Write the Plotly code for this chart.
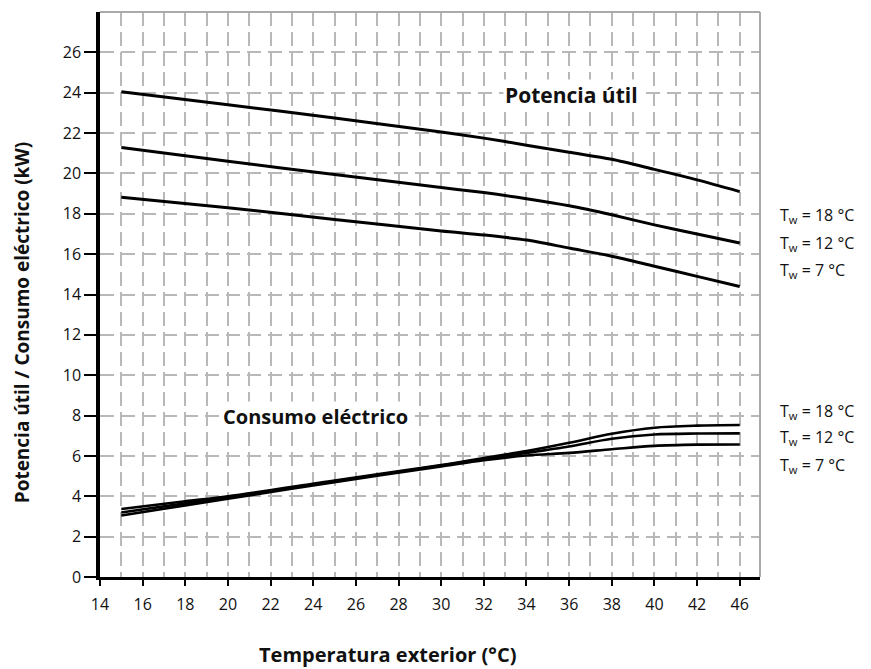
import plotly.graph_objects as go

# Temperatura exterior (axis position units; last tick is labelled "46")
x_pot = [15, 20, 25, 30, 32, 34, 36, 38, 40, 42, 44]
pot_18 = [24.05, 23.4, 22.75, 22.05, 21.75, 21.4, 21.05, 20.7, 20.2, 19.68, 19.1]
pot_12 = [21.28, 20.6, 19.95, 19.3, 19.05, 18.75, 18.4, 17.95, 17.45, 17.0, 16.55]
pot_7 = [18.82, 18.3, 17.72, 17.15, 16.95, 16.7, 16.3, 15.9, 15.4, 14.9, 14.4]

x_con = [15, 18, 20, 25, 30, 32, 34, 36, 38, 40, 42, 44]
con_18 = [3.37, 3.75, 4.0, 4.78, 5.55, 5.9, 6.24, 6.65, 7.1, 7.4, 7.5, 7.53]
con_12 = [3.2, 3.65, 3.95, 4.74, 5.52, 5.85, 6.15, 6.47, 6.85, 7.06, 7.11, 7.12]
con_7 = [3.05, 3.55, 3.88, 4.7, 5.48, 5.79, 6.02, 6.15, 6.33, 6.5, 6.56, 6.57]

x_tickvals = list(range(14, 45, 2))
x_ticktext = ["14", "16", "18", "20", "22", "24", "26", "28", "30", "32", "34",
              "36", "38", "40", "42", "46"]
y_tickvals = list(range(0, 27, 2))

series_labels = ["T<sub>w</sub> = 18 °C", "T<sub>w</sub> = 12 °C", "T<sub>w</sub> = 7 °C"]
label_y_pot = [17.94, 16.55, 15.21]
label_y_con = [8.18, 6.89, 5.55]

FONT = "Open Sans"
GRID = "#b8b8b8"

fig = go.Figure()
for ys in (pot_18, pot_12, pot_7):
    fig.add_trace(go.Scatter(x=x_pot, y=ys, mode="lines",
                             line=dict(color="black", width=3, shape="spline", smoothing=0.8),
                             showlegend=False, hoverinfo="skip"))
for ys in (con_18, con_12, con_7):
    fig.add_trace(go.Scatter(x=x_con, y=ys, mode="lines",
                             line=dict(color="black", width=2.6, shape="spline", smoothing=0.9),
                             showlegend=False, hoverinfo="skip"))

fig.update_layout(
    width=863, height=661,
    margin=dict(l=92, r=111, t=4, b=92),
    paper_bgcolor="white", plot_bgcolor="white",
    font=dict(family=FONT, size=16, color="#111"),
    xaxis=dict(range=[14, 44.95], tickvals=x_tickvals, ticktext=x_ticktext,
               showline=True, linecolor="black", linewidth=2.5,
               ticks="outside", ticklen=6, tickwidth=2, tickcolor="black",
               ticklabelstandoff=5,
               showgrid=True, gridcolor=GRID, gridwidth=1.5, griddash="14px,6px",
               minor=dict(dtick=1, tick0=14, showgrid=True, gridcolor=GRID,
                          gridwidth=1.5, griddash="14px,6px", ticks=""),
               zeroline=False, tickfont=dict(size=16)),
    yaxis=dict(range=[0, 28], tickvals=y_tickvals,
               showline=True, linecolor="black", linewidth=3.5,
               ticks="outside", ticklen=12, tickwidth=2, tickcolor="black",
               showgrid=True, gridcolor=GRID, gridwidth=1.5, griddash="14px,7px",
               zeroline=False, tickfont=dict(size=16)),
)

# gray top / right frame
fig.add_shape(type="line", xref="paper", yref="paper", x0=0, x1=1, y0=1, y1=1,
              line=dict(color="#aaaaaa", width=2))
fig.add_shape(type="line", xref="paper", yref="paper", x0=1, x1=1, y0=0, y1=1,
              line=dict(color="#aaaaaa", width=2))

fig.add_annotation(x=36.1, y=23.9, text="<b>Potencia útil</b>", showarrow=False,
                   font=dict(size=21, family=FONT), bgcolor="white")
fig.add_annotation(x=24.1, y=7.93, text="<b>Consumo eléctrico</b>", showarrow=False,
                   font=dict(size=20, family=FONT), bgcolor="white")

for lab, y1, y2 in zip(series_labels, label_y_pot, label_y_con):
    for yy in (y1, y2):
        fig.add_annotation(xref="paper", yref="y", x=1.027, y=yy,
                           text=lab, showarrow=False, xanchor="left", yanchor="middle",
                           font=dict(size=16, family=FONT))

fig.add_annotation(xref="paper", yref="paper", x=0.435, y=-0.138,
                   text="<b>Temperatura exterior (°C)</b>", showarrow=False,
                   yanchor="middle", font=dict(size=20, family=FONT))
fig.add_annotation(xref="paper", yref="paper", x=-0.118, y=0.451,
                   text="<b>Potencia útil / Consumo eléctrico (kW)</b>", showarrow=False,
                   textangle=-90, xanchor="center", yanchor="middle",
                   font=dict(size=19, family=FONT))

fig.write_html("out.html")
